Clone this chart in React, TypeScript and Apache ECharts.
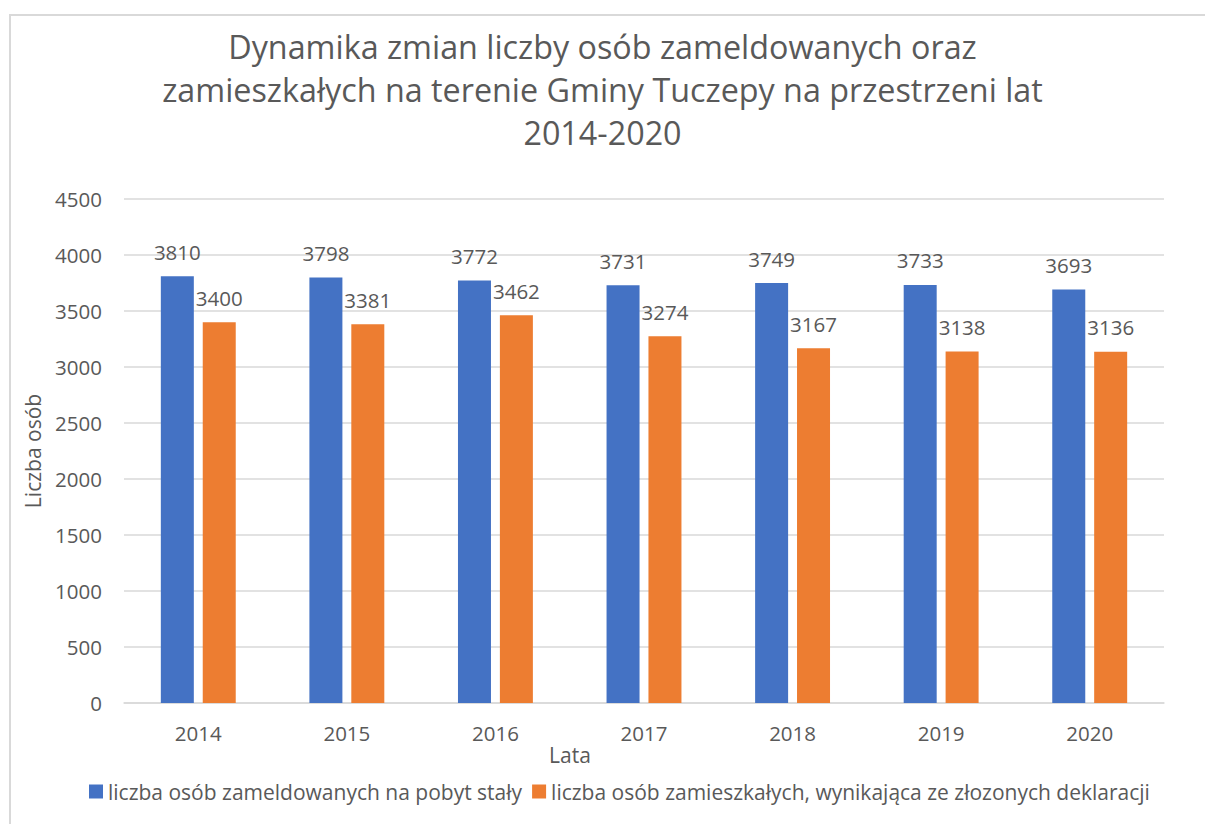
import React, { useEffect, useRef } from "react";
import * as echarts from "echarts";

const categories = ["2014", "2015", "2016", "2017", "2018", "2019", "2020"];
const zameldowani = [3810, 3798, 3772, 3731, 3749, 3733, 3693];
const zamieszkali = [3400, 3381, 3462, 3274, 3167, 3138, 3136];
const seriesNames = [
  "liczba osób zameldowanych na pobyt stały",
  "liczba osób zamieszkałych, wynikająca ze złozonych deklaracji",
];
const titleText =
  "Dynamika zmian liczby osób zameldowanych oraz\nzamieszkałych na terenie Gminy Tuczepy na przestrzeni lat\n2014-2020";

const FONT = "'Open Sans', sans-serif";
const TXT = "#595959";

export default function App() {
  const ref = useRef<HTMLDivElement>(null);
  useEffect(() => {
    document.body.style.margin = "0";
    const chart = echarts.init(ref.current!, null, { renderer: "svg" });
    const labelStyle = {
      show: true,
      position: "top" as const,
      distance: 14,
      color: TXT,
      fontSize: 20.5,
      fontFamily: FONT,
    };
    chart.setOption({
      animation: false,
      backgroundColor: "#ffffff",
      textStyle: { fontFamily: FONT, color: TXT },
      title: {
        text: titleText,
        left: "center",
        top: 19,
        textStyle: {
          fontSize: 32.3,
          fontWeight: "normal",
          color: TXT,
          fontFamily: FONT,
          lineHeight: 43,
        },
      },
      graphic: [
        {
          type: "rect",
          shape: { x: 10, y: 15, width: 1300, height: 900 },
          style: { fill: "none", stroke: "#d9d9d9", lineWidth: 2 },
          silent: true,
        },
        {
          type: "text",
          x: 570,
          y: 755,
          style: {
            text: "Lata",
            fill: TXT,
            fontSize: 21,
            fontFamily: FONT,
            align: "center",
            verticalAlign: "middle",
          },
        },
        {
          type: "text",
          x: 33,
          y: 451,
          rotation: Math.PI / 2,
          style: {
            text: "Liczba osób",
            fill: TXT,
            fontSize: 21,
            fontFamily: FONT,
            align: "center",
            verticalAlign: "middle",
          },
        },
      ],
      legend: {
        data: seriesNames,
        bottom: 17,
        left: 84,
        icon: "rect",
        itemWidth: 14,
        itemHeight: 14,
        itemGap: 10,
        itemStyle: { borderWidth: 0 },
        textStyle: { color: TXT, fontSize: 21, fontFamily: FONT },
      },
      grid: { left: 124, right: 41, top: 199, bottom: 121, containLabel: false },
      xAxis: {
        type: "category",
        data: categories,
        axisLine: { lineStyle: { color: "#d9d9d9", width: 1.5 } },
        axisTick: { show: false },
        axisLabel: { color: TXT, fontSize: 20.5, fontFamily: FONT, margin: 19 },
      },
      yAxis: {
        type: "value",
        min: 0,
        max: 4500,
        interval: 500,
        axisLine: { show: false },
        axisTick: { show: false },
        splitLine: { lineStyle: { color: "#d9d9d9", width: 1.5 } },
        axisLabel: {
          color: TXT,
          fontSize: 20.5,
          fontFamily: FONT,
          margin: 22,
          formatter: (v: number) => String(v),
        },
      },
      series: [
        {
          name: seriesNames[0],
          type: "bar",
          data: zameldowani,
          barWidth: 33,
          barGap: "27%",
          itemStyle: { color: "#4472C4" },
          label: labelStyle,
        },
        {
          name: seriesNames[1],
          type: "bar",
          data: zamieszkali,
          barWidth: 33,
          itemStyle: { color: "#ED7D31" },
          label: labelStyle,
        },
      ],
    });
    return () => chart.dispose();
  }, []);
  return <div ref={ref} style={{ width: 1205, height: 824 }} />;
}
